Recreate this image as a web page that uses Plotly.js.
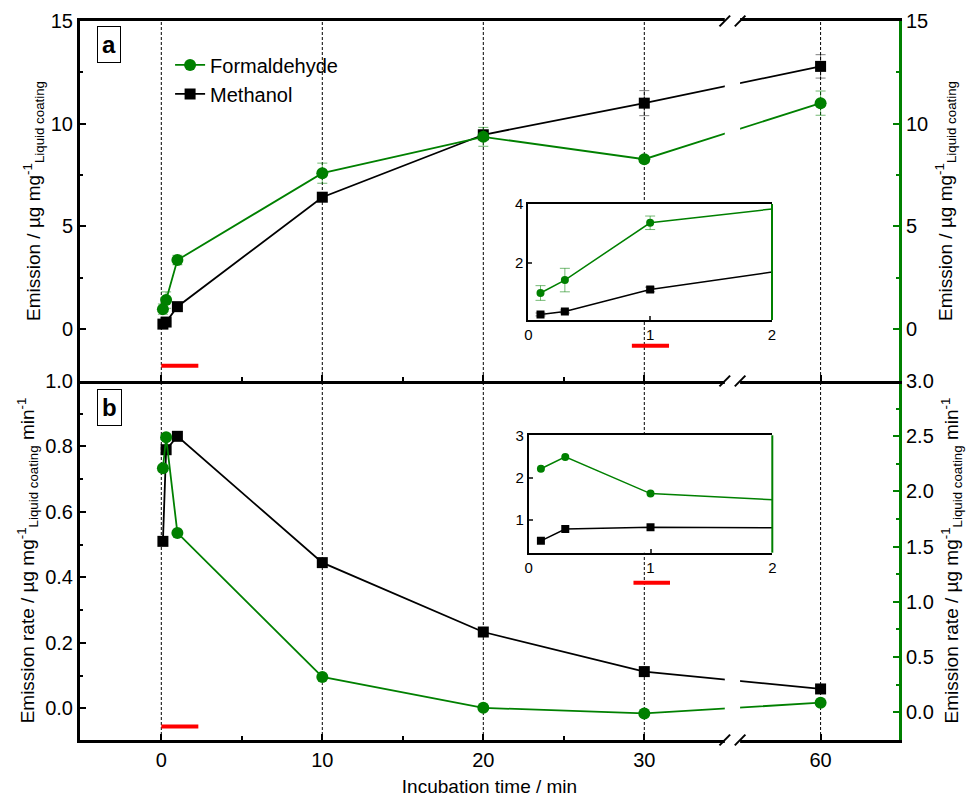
<!DOCTYPE html>
<html><head><meta charset="utf-8">
<script src="https://cdn.plot.ly/plotly-3.0.1.min.js"></script>
<style>html,body{margin:0;padding:0;background:#fff}#chart{width:976px;height:799px}</style>
</head><body><div id="chart"></div>
<script>
// ---- data ----
const timeMin = [0.1, 0.3, 1, 10, 20, 30, 60];
const xTickVals = [0, 10, 20, 30, 60];
const xTickText = ['0', '10', '20', '30', '60'];
const xMinorVals = [5, 15, 25];
const insetTickVals = [0, 1, 2];
const formEmission = [0.97, 1.41, 3.36, 7.59, 9.36, 8.27, 11.0];
const formEmissionErr = [0.25, 0.4, 0.23, 0.49, 0.46, 0.15, 0.59];
const methEmission = [0.24, 0.34, 1.09, 6.42, 9.46, 11.0, 12.79];
const methEmissionErr = [0.05, 0.05, 0.08, 0.1, 0.15, 0.61, 0.57];
const formRate = [2.21, 2.49, 1.624, 0.32, 0.04, -0.01, 0.087];
const methRate = [0.51, 0.79, 0.831, 0.445, 0.233, 0.112, 0.059];
const seriesNames = ['Formaldehyde', 'Methanol'];

// ---- broken axis (30 | 60) ----
const BREAK_FROM = 30, BREAK_SHIFT = 19.05;
const brokenX = t => (t <= BREAK_FROM ? t : t - BREAK_SHIFT);
const xPlot = timeMin.map(brokenX);
const breakLeft = 35.0, breakRight = 35.95;

const GREEN = '#008000', BLACK = '#000000', RED = '#ff0000';
const FONT = 'Liberation Sans, Arial, sans-serif';

function errY(arr, color){ return {type:'data', array:arr, visible:true, color:color, thickness:1, width:5}; }

const traces = [
  {x:xPlot, y:formEmission, xaxis:'x2', yaxis:'y4', name:seriesNames[0], mode:'lines+markers',
   line:{color:GREEN, width:1.8}, marker:{symbol:'circle', size:12, color:GREEN},
   error_y:errY(formEmissionErr,'rgba(0,128,0,0.55)'), showlegend:true},
  {x:xPlot, y:methEmission, xaxis:'x2', yaxis:'y3', name:seriesNames[1], mode:'lines+markers',
   line:{color:BLACK, width:1.8}, marker:{symbol:'square', size:11, color:BLACK},
   error_y:errY(methEmissionErr,'rgba(0,0,0,0.5)'), showlegend:true},
  {x:xPlot, y:formRate, xaxis:'x', yaxis:'y2', name:seriesNames[0], mode:'lines+markers',
   line:{color:GREEN, width:1.8}, marker:{symbol:'circle', size:12, color:GREEN}, showlegend:false},
  {x:xPlot, y:methRate, xaxis:'x', yaxis:'y', name:seriesNames[1], mode:'lines+markers',
   line:{color:BLACK, width:1.8}, marker:{symbol:'square', size:11, color:BLACK}, showlegend:false},
  {x:timeMin, y:methEmission, xaxis:'x3', yaxis:'y5', name:seriesNames[1], mode:'lines+markers',
   line:{color:BLACK, width:1.5}, marker:{symbol:'square', size:8, color:BLACK},
   error_y:errY(methEmissionErr,'rgba(0,0,0,0.5)'), showlegend:false},
  {x:timeMin, y:formEmission, xaxis:'x3', yaxis:'y5', name:seriesNames[0], mode:'lines+markers',
   line:{color:GREEN, width:1.5}, marker:{symbol:'circle', size:8, color:GREEN},
   error_y:errY(formEmissionErr,'rgba(0,128,0,0.55)'), showlegend:false},
  {x:timeMin, y:methRate, xaxis:'x4', yaxis:'y6', name:seriesNames[1], mode:'lines+markers',
   line:{color:BLACK, width:1.5}, marker:{symbol:'square', size:8, color:BLACK}, showlegend:false},
  {x:timeMin, y:formRate, xaxis:'x4', yaxis:'y6', name:seriesNames[0], mode:'lines+markers',
   line:{color:GREEN, width:1.5}, marker:{symbol:'circle', size:8, color:GREEN}, showlegend:false}
];

const panelSplit = 0.4993;
const tickFont = {family:FONT, size:20, color:BLACK};
const titleFont = {family:FONT, size:19, color:BLACK};
const insetFont = {family:FONT, size:15, color:BLACK};

const mainX = {
  range:[-5.05, 45.82], tickmode:'array', tickvals:xTickVals.map(brokenX), ticktext:xTickText,
  ticks:'inside', ticklen:6, tickwidth:2, tickcolor:BLACK,
  minor:{tickmode:'array', tickvals:xMinorVals, ticks:'inside', ticklen:4, tickwidth:2, tickcolor:BLACK},
  showline:true, linewidth:3, linecolor:BLACK, showgrid:false, zeroline:false,
  tickfont:tickFont
};

const emissionTitle = 'Emission / µg mg<sup>-1</sup><sub>Liquid coating</sub>';
const rateTitle = 'Emission rate / µg mg<sup>-1</sup><sub>Liquid coating</sub> min<sup>-1</sup>';

function yAx(extra){
  return Object.assign({showgrid:false, zeroline:false, showline:true, linewidth:3, linecolor:BLACK,
    ticks:'inside', ticklen:6, tickwidth:2, tickcolor:BLACK, tickfont:tickFont}, extra);
}

const layout = {
  width:976, height:799, margin:{l:80, r:77, t:21, b:59},
  paper_bgcolor:'#ffffff', plot_bgcolor:'#ffffff',
  font:{family:FONT, color:BLACK},
  showlegend:true,
  legend:{x:0.11, y:0.966, xanchor:'left', yanchor:'top', bgcolor:'rgba(0,0,0,0)', borderwidth:0,
          font:{family:FONT, size:20, color:BLACK}, tracegroupgap:0},
  xaxis: Object.assign({}, mainX, {domain:[0,1], anchor:'y', mirror:false,
          title:{text:'Incubation time / min', font:titleFont, standoff:10}}),
  xaxis2: Object.assign({}, mainX, {domain:[0,1], anchor:'y3', matches:'x', showticklabels:false, mirror:true}),
  yaxis: yAx({domain:[0, panelSplit], anchor:'x', range:[-0.097, 1.0], dtick:0.2, tick0:0, tickformat:'.1f',
          minor:{dtick:0.1, ticks:'inside', ticklen:3, tickwidth:2, tickcolor:BLACK},
          title:{text:rateTitle, font:titleFont, standoff:6}}),
  yaxis2: yAx({overlaying:'y', side:'right', anchor:'x', range:[-0.251, 3.0], dtick:0.5, tick0:0, tickformat:'.1f',
          linecolor:GREEN, tickcolor:GREEN,
          minor:{dtick:0.25, ticks:'inside', ticklen:3, tickwidth:2, tickcolor:GREEN},
          title:{text:rateTitle, font:titleFont, standoff:12}}),
  yaxis3: yAx({domain:[panelSplit, 1], anchor:'x2', range:[-2.53, 15], dtick:5, tick0:0,
          minor:{dtick:2.5, ticks:'inside', ticklen:3, tickwidth:2, tickcolor:BLACK},
          title:{text:emissionTitle, font:titleFont, standoff:6}}),
  yaxis4: yAx({overlaying:'y3', side:'right', anchor:'x2', range:[-2.53, 15], dtick:5, tick0:0,
          linecolor:GREEN, tickcolor:GREEN,
          minor:{dtick:2.5, ticks:'inside', ticklen:3, tickwidth:2, tickcolor:GREEN},
          title:{text:emissionTitle, font:titleFont, standoff:12}}),
  xaxis3: {domain:[0.5474, 0.8449], anchor:'y5', range:[0, 2], tickmode:'array', tickvals:insetTickVals,
          ticks:'inside', ticklen:4, tickwidth:2, showline:true, linewidth:2, linecolor:BLACK, mirror:true,
          showgrid:false, zeroline:false, tickfont:insetFont},
  yaxis5: {domain:[0.5841, 0.7455], anchor:'x3', range:[0.05, 4], tickmode:'array', tickvals:[2, 4],
          ticks:'inside', ticklen:4, tickwidth:2, showline:true, linewidth:2, linecolor:BLACK,
          showgrid:false, zeroline:false, tickfont:insetFont},
  xaxis4: {domain:[0.5479, 0.8453], anchor:'y6', range:[0, 2], tickmode:'array', tickvals:insetTickVals,
          ticks:'inside', ticklen:4, tickwidth:2, showline:true, linewidth:2, linecolor:BLACK, mirror:true,
          showgrid:false, zeroline:false, tickfont:insetFont},
  yaxis6: {domain:[0.2605, 0.4238], anchor:'x4', range:[0.23, 3], tickmode:'array', tickvals:[1, 2, 3],
          ticks:'inside', ticklen:4, tickwidth:2, showline:true, linewidth:2, linecolor:BLACK,
          showgrid:false, zeroline:false, tickfont:insetFont},
  annotations:[
    {text:'<b>a</b>', xref:'paper', yref:'paper', x:0.0354, y:0.968, xanchor:'center', yanchor:'middle', showarrow:false,
     font:{family:FONT, size:24, color:BLACK}, bordercolor:BLACK, borderwidth:1, borderpad:4, bgcolor:'#fff'},
    {text:'<b>b</b>', xref:'paper', yref:'paper', x:0.0366, y:0.4631, xanchor:'center', yanchor:'middle', showarrow:false,
     font:{family:FONT, size:24, color:BLACK}, bordercolor:BLACK, borderwidth:1, borderpad:4, bgcolor:'#fff'}
  ],
  shapes:[]
};

// dotted guide lines at each labelled time
xTickVals.forEach(t => layout.shapes.push({type:'line', xref:'x', yref:'paper', x0:brokenX(t), x1:brokenX(t),
  y0:0, y1:1, layer:'below', line:{color:BLACK, width:1, dash:'3px,2px'}}));

// red bars
layout.shapes.push({type:'line', xref:'x2', yref:'y3', x0:0, x1:2.3, y0:-1.79, y1:-1.79, line:{color:RED, width:4}});
layout.shapes.push({type:'line', xref:'x', yref:'y', x0:0, x1:2.3, y0:-0.056, y1:-0.056, line:{color:RED, width:4}});
layout.shapes.push({type:'line', xref:'x3', yref:'paper', x0:0.85, x1:1.155, y0:0.5484, y1:0.5484, line:{color:RED, width:4}});
layout.shapes.push({type:'line', xref:'x4', yref:'paper', x0:0.86, x1:1.16, y0:0.2188, y1:0.2188, line:{color:RED, width:4}});

// inset right edges (green)
[['x3','y5'],['x4','y6']].forEach(([xa,ya]) => layout.shapes.push({type:'line', xref:xa+' domain', yref:ya+' domain',
  x0:1, x1:1, y0:0, y1:1, line:{color:GREEN, width:2}}));

// axis-break gaps
[[1.012, 0.754], [0.579, 0.431], [0.253, -0.012]].forEach(([a,b]) => layout.shapes.push({type:'rect', xref:'x', yref:'paper',
  x0:breakLeft, x1:breakRight, y0:b, y1:a, layer:'above', line:{width:0}, fillcolor:'#ffffff'}));
[1, panelSplit, 0].forEach(yc => [breakLeft, breakRight].forEach(xc => layout.shapes.push({type:'line', xref:'x', yref:'paper',
  x0:xc-0.33, x1:xc+0.33, y0:yc-0.0075, y1:yc+0.0075, layer:'above', line:{color:BLACK, width:2}})));

Plotly.newPlot('chart', traces, layout, {displayModeBar:false, staticPlot:true});
</script></body></html>
